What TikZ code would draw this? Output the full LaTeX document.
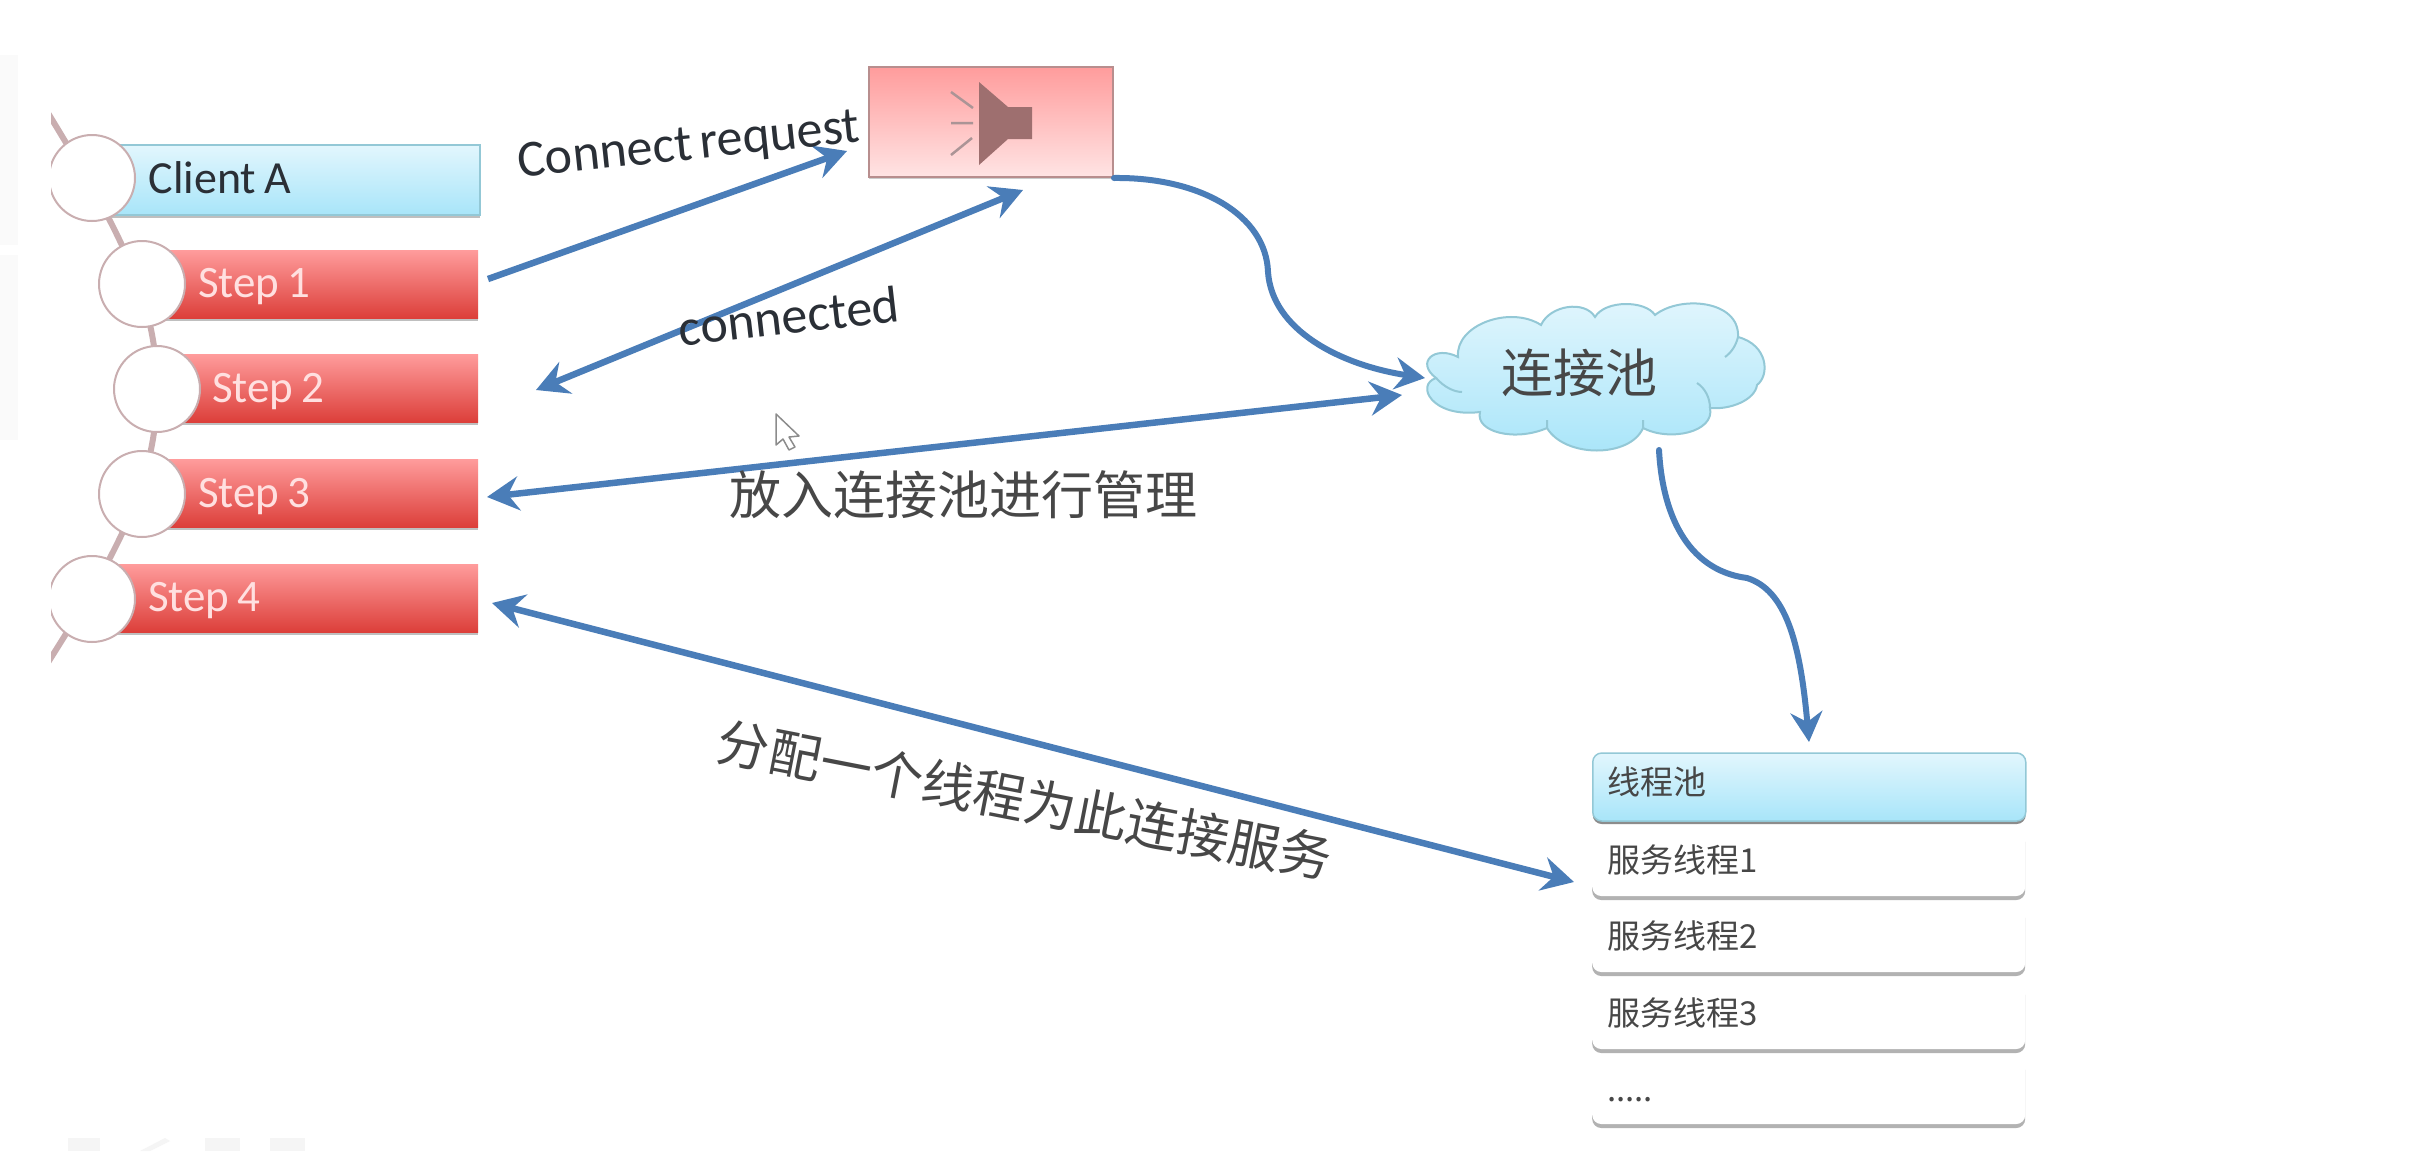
\documentclass[tikz,border=0pt]{standalone}
\usepackage{fontspec}
\setmainfont{Carlito}[WordSpace=0.65]
\newfontfamily\cjkf{Noto Sans CJK SC}
\usetikzlibrary{arrows.meta,shadows,calc}
\definecolor{arrowblue}{HTML}{4A7DB8}
\definecolor{ringc}{HTML}{C9AEB0}
\definecolor{barred}{HTML}{DC3F3A}
\definecolor{barpink}{HTML}{FF9C9C}
\definecolor{skytop}{HTML}{E2F6FD}
\definecolor{skybot}{HTML}{A8E5F9}
\definecolor{skyedge}{HTML}{93C8D6}
\definecolor{inkc}{HTML}{2A2F36}
\tikzset{
  redbar/.style={anchor=west,inner xsep=0pt,minimum height=68pt,top color=barpink,bottom color=barred,align=left,
    text=white!88!red,font=\fontsize{45}{45}\selectfont,general shadow={shadow yshift=-3pt,fill=black!25}},
  bluebar/.style={anchor=west,inner xsep=0pt,minimum height=70pt,top color=skytop,bottom color=skybot,draw=skyedge,line width=1.5pt,align=left,
    text=inkc,font=\fontsize{46}{46}\selectfont,general shadow={shadow yshift=-3pt,fill=black!25}},
  ringnode/.style={circle,draw=ringc,line width=2pt,fill=white,minimum size=86pt,inner sep=0pt},
  flow/.style={arrowblue,line width=6.5pt,-{Stealth[length=32pt,width=34pt,inset=11pt]}},
  flowboth/.style={arrowblue,line width=6.5pt,{Stealth[length=32pt,width=34pt,inset=11pt]}-{Stealth[length=32pt,width=34pt,inset=11pt]}},
  curveflow/.style={arrowblue,line width=6pt,line cap=round,-{Stealth[length=30pt,width=32pt,inset=10pt]}},
  lat/.style={text=inkc,inner sep=0pt,font=\fontsize{52}{52}\selectfont},
  han/.style={text=black!72,inner sep=0pt,font=\cjkf\fontsize{52}{52}\selectfont},
  headrow/.style={rounded corners=9pt,anchor=west,inner xsep=0pt,top color=skytop,bottom color=skybot,draw=skyedge,line width=1.5pt,
    minimum height=68pt,text width=433pt,align=left,text=black!72,font=\cjkf\fontsize{33}{33}\selectfont,general shadow={shadow yshift=-3pt,fill=black!45}},
  threadrow/.style={rounded corners=9pt,anchor=west,inner xsep=0pt,fill=white,
    minimum height=66pt,text width=433pt,align=left,text=black!72,font=\cjkf\fontsize{33}{33}\selectfont,general shadow={shadow yshift=-4pt,fill=black!30}},
  raystroke/.style={draw=ringc!85!black,line width=2.5pt},
}
\newcommand{\tightsp}{\spaceskip=0.18em\relax}
\begin{document}
\begin{tikzpicture}[x=1pt,y=-1pt]
\useasboundingbox (0,0) rectangle (2435,1151);
\fill[white] (0,0) rectangle (2435,1151);
% faint screen remnants
\fill[black!2] (0,55) rectangle (18,245);
\fill[black!2] (0,255) rectangle (18,440);
\fill[black!4] (68,1138) rectangle (100,1151);
\fill[black!4] (140,1151) -- (165,1138) -- (170,1141) -- (150,1151) -- cycle;
\fill[black!4] (205,1138) rectangle (240,1151);
\fill[black!4] (270,1138) rectangle (305,1151);
% chain behind the list
\begin{scope}
\clip (51,100) rectangle (300,700);
\draw[ringc,line width=6pt] (40,100) .. controls (120,230) and (157,300) .. (157,389) .. controls (157,480) and (120,550) .. (40,675);
\end{scope}
% bars
\node[bluebar,text width=387pt] (clienta) at (92,180) {\hspace*{56pt}\raisebox{4pt}{\tightsp Client A}};
\node[redbar,text width=336pt] (stepa) at (142,284) {\hspace*{56pt}\raisebox{-13pt}[0pt][0pt]{\tightsp Step 1}};
\node[redbar,text width=321pt] (stepb) at (157,388) {\hspace*{55pt}\raisebox{-14pt}[0pt][0pt]{\tightsp Step 2}};
\node[redbar,text width=336pt] (stepc) at (142,493) {\hspace*{56pt}\raisebox{-14pt}[0pt][0pt]{\tightsp Step 3}};
\node[redbar,text width=386pt] (stepd) at (92,598) {\hspace*{56pt}\raisebox{-13pt}[0pt][0pt]{\tightsp Step 4}};
% rings, clipped on the left like the bars' chain
\begin{scope}
\clip (51,100) rectangle (300,700);
\node[ringnode] (ringa) at (92,178) {};
\node[ringnode] (ringb) at (142,284) {};
\node[ringnode] (ringc) at (157,389) {};
\node[ringnode] (ringd) at (142,494) {};
\node[ringnode] (ringe) at (92,599) {};
\end{scope}
% listener box
\node[rectangle,minimum width=244pt,minimum height=110pt,top color=barpink,bottom color=white!70!barpink!90,draw=barpink!60!black!70,line width=2pt,inner sep=0pt,general shadow={shadow yshift=-2pt,fill=black!20}] (listener) at (991,122) {};
\fill[black!45!barpink!85] (979,82) -- (1008,107) -- (1032,107) -- (1032,139) -- (1008,139) -- (979,165) -- cycle;
\draw[raystroke] (951,92) -- (973,108) (951,123) -- (973,123) (951,155) -- (972,138);
% cloud
\shade[top color=skytop,bottom color=skybot,draw=skyedge,line width=2pt]
  (1458,357)
  .. controls (1455,325) and (1510,305) .. (1541,325)
  .. controls (1550,305) and (1585,300) .. (1595,317)
  .. controls (1605,300) and (1645,300) .. (1655,315)
  .. controls (1680,295) and (1740,300) .. (1738,337)
  .. controls (1768,345) and (1770,375) .. (1757,385)
  .. controls (1755,400) and (1730,410) .. (1710,408)
  .. controls (1715,432) and (1670,442) .. (1643,428)
  .. controls (1630,458) and (1565,458) .. (1547,428)
  .. controls (1515,442) and (1475,432) .. (1480,412)
  .. controls (1432,418) and (1415,385) .. (1436,378)
  .. controls (1415,362) and (1435,345) .. (1458,357) -- cycle;
\draw[skyedge,line width=2pt] (1697,383) .. controls (1705,388) and (1710,398) .. (1710,408)
  (1547,428) -- (1547,420) (1643,428) -- (1643,420) (1436,378) .. controls (1445,388) and (1455,392) .. (1462,392)
  (1738,337) .. controls (1736,345) and (1732,352) .. (1725,357);
\node[han] (cloud) at (1579,373) {连接池};
% thread pool
\node[headrow] (pool) at (1592,787) {\hspace*{15pt}\raisebox{13pt}{线程池}};
\node[threadrow] (srva) at (1592,863) {\hspace*{15pt}\raisebox{8pt}{服务线程1}};
\node[threadrow] (srvb) at (1592,939) {\hspace*{15pt}\raisebox{8pt}{服务线程2}};
\node[threadrow] (srvc) at (1592,1016) {\hspace*{15pt}\raisebox{8pt}{服务线程3}};
\node[threadrow] (srvd) at (1592,1091) {\hspace*{15pt}\raisebox{-22pt}{.....}};
% connector ends
\coordinate (reqfrom) at (488,279);
\coordinate (reqto) at (847,151);
\coordinate (connfrom) at (1023,190);
\coordinate (connto) at (536,390);
\coordinate (poolfrom) at (487,497);
\coordinate (poolto) at (1402,395);
\coordinate (assignfrom) at (492,603);
\coordinate (assignto) at (1574,882);
\coordinate (cloudin) at (1425,378);
\coordinate (cloudout) at (1659,450);
\coordinate (rowin) at (1809,742);
% connectors
\draw[flow] (reqfrom) -- (reqto);
\draw[flowboth] (connto) -- (connfrom);
\draw[flowboth] (poolfrom) -- (poolto);
\draw[flowboth] (assignfrom) -- (assignto);
\draw[curveflow] (listener.south east) .. controls (1200,177) and (1266,215) .. (1268,272) .. controls (1272,330) and (1340,365) .. (cloudin);
\draw[curveflow] (cloudout) .. controls (1662,510) and (1685,570) .. (1747,578) .. controls (1785,590) and (1800,640) .. (rowin);
% labels
\node[lat,rotate=6] (lblreq) at (689,147) {Connect request};
\node[lat,rotate=6.5] (lblconn) at (789,316) {connected};
\node[han] (lblpool) at (963,495) {放入连接池进行管理};
\node[han,rotate=-11] (lblassign) at (1025,800) {分配一个线程为此连接服务};
% pointer
\draw[draw=black!45,fill=white,line width=1.5pt,line join=round] (776,414) -- (776,445) -- (783,439) -- (789,450) -- (795,447) -- (789,437) -- (799,436) -- cycle;
\end{tikzpicture}
\end{document}
